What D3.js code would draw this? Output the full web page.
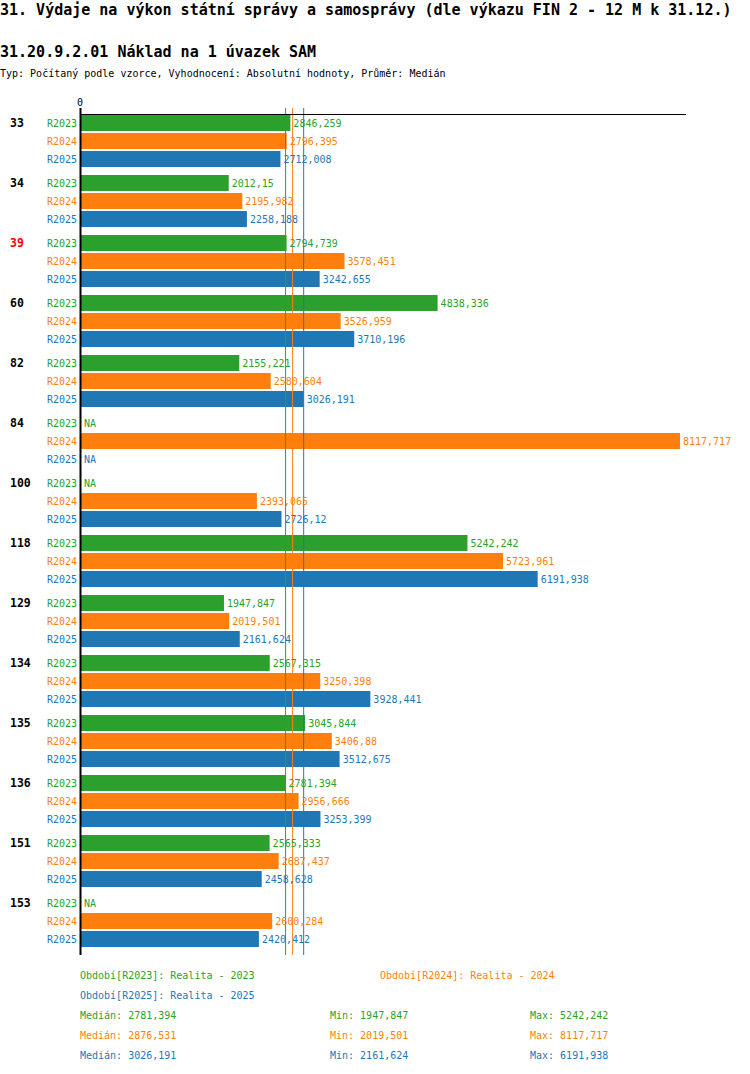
<!DOCTYPE html>
<html>
<head>
<meta charset="utf-8">
<script src="https://cdn.jsdelivr.net/npm/d3@7"></script>
<style>
body { margin: 0; background: #fff; }
text { font-family: "DejaVu Sans Mono", "Liberation Mono", monospace; }
</style>
</head>
<body>
<div id="chart"></div>
<script>
var categories = ["33","34","39","60","82","84","100","118","129","134","135","136","151","153"];
var series = ["R2023","R2024","R2025"];
var v2023 = [2846.259,2012.15,2794.739,4838.336,2155.221,null,null,5242.242,1947.847,2567.315,3045.844,2781.394,2565.333,null];
var v2024 = [2796.395,2195.982,3578.451,3526.959,2580.604,8117.717,2393.065,5723.961,2019.501,3250.398,3406.88,2956.666,2687.437,2600.284];
var v2025 = [2712.008,2258.188,3242.655,3710.196,3026.191,null,2726.12,6191.938,2161.624,3928.441,3512.675,3253.399,2458.628,2420.412];
var medians = [2781.394, 2876.531, 3026.191];
var mins = [1947.847, 2019.501, 2161.624];
var maxs = [5242.242, 8117.717, 6191.938];
var legendNames = ["Období[R2023]: Realita - 2023","Období[R2024]: Realita - 2024","Období[R2025]: Realita - 2025"];
var highlighted = "39";

var colors = ["#2ca02c","#ff7f0e","#1f77b4"];
var values = [v2023, v2024, v2025];
var fmt = function(v) { return String(v).replace(".", ","); };

var svg = d3.select("#chart").append("svg").attr("width", 750).attr("height", 1074);

svg.append("text").attr("x", 0).attr("y", 15).style("font-size", "15px").style("font-weight", "bold")
  .text("31. Výdaje na výkon státní správy a samosprávy (dle výkazu FIN 2 - 12 M k 31.12.)");
svg.append("text").attr("x", 0).attr("y", 57).style("font-size", "15px").style("font-weight", "bold")
  .text("31.20.9.2.01 Náklad na 1 úvazek SAM");
svg.append("text").attr("x", 0).attr("y", 77).style("font-size", "10px")
  .text("Typ: Počítaný podle vzorce, Vyhodnocení: Absolutní hodnoty, Průměr: Medián");

var x = d3.scaleLinear().domain([0, d3.max(v2024)]).range([80, 680]);
var y = d3.scaleBand().domain(categories).range([114, 114 + 60 * categories.length]);
var ys = d3.scaleBand().domain(series).range([1, 53]).paddingInner(1 / 9);

var rows = [];
categories.forEach(function(c, ci) {
  series.forEach(function(s, si) {
    rows.push({cat: c, s: s, si: si, v: values[si][ci]});
  });
});

svg.selectAll(".bar").data(rows.filter(function(d) { return d.v != null; })).enter().append("rect")
  .attr("x", x(0)).attr("y", function(d) { return y(d.cat) + ys(d.s); })
  .attr("width", function(d) { return x(d.v) - x(0); }).attr("height", ys.bandwidth())
  .style("fill", function(d) { return colors[d.si]; });

// median lines on top of bars
svg.selectAll(".med").data(medians).enter().append("line")
  .attr("x1", function(d) { return x(d); }).attr("x2", function(d) { return x(d); })
  .attr("y1", 108).attr("y2", 955)
  .style("stroke", function(d, i) { return colors[i]; }).style("stroke-width", 1);

svg.selectAll(".val").data(rows).enter().append("text")
  .attr("x", function(d) { return d.v == null ? x(0) + 4 : x(d.v) + 3; })
  .attr("y", function(d) { return y(d.cat) + ys(d.s) + ys.bandwidth() / 2; })
  .attr("dy", "0.35em").style("font-size", "10px")
  .style("fill", function(d) { return colors[d.si]; })
  .text(function(d) { return d.v == null ? "NA" : fmt(d.v); });

svg.selectAll(".ser").data(rows).enter().append("text")
  .attr("x", 77).attr("y", function(d) { return y(d.cat) + ys(d.s) + ys.bandwidth() / 2; })
  .attr("dy", "0.35em").attr("text-anchor", "end").style("font-size", "10px")
  .style("fill", function(d) { return colors[d.si]; })
  .text(function(d) { return d.s; });

svg.selectAll(".cat").data(categories).enter().append("text")
  .attr("x", 10).attr("y", function(d) { return y(d) + ys("R2023") + ys.bandwidth() / 2; })
  .attr("dy", "0.35em").style("font-size", "11.5px").style("font-weight", "bold")
  .style("fill", function(d) { return d == highlighted ? "#ff0000" : "#000"; })
  .text(function(d) { return d; });

// axes
svg.append("line").attr("x1", x(0)).attr("x2", 686).attr("y1", 114.5).attr("y2", 114.5)
  .style("stroke", "#000").style("stroke-width", 1);
svg.append("line").attr("x1", x(0) + 0.5).attr("x2", x(0) + 0.5).attr("y1", 108).attr("y2", 955)
  .style("stroke", "#000").style("stroke-width", 2);
svg.append("text").attr("x", x(0)).attr("y", 106).attr("text-anchor", "middle").style("font-size", "10px").text("0");

// legend
var legendPos = [[80, 975], [380, 975], [80, 995]];
legendNames.forEach(function(n, i) {
  svg.append("text").attr("x", legendPos[i][0]).attr("y", legendPos[i][1]).attr("dy", "0.35em")
    .style("font-size", "10px").style("fill", colors[i]).text(n);
});
series.forEach(function(s, i) {
  var yy = 1015 + 20 * i;
  svg.append("text").attr("x", 80).attr("y", yy).attr("dy", "0.35em").style("font-size", "10px")
    .style("fill", colors[i]).text("Medián: " + fmt(medians[i]));
  svg.append("text").attr("x", 330).attr("y", yy).attr("dy", "0.35em").style("font-size", "10px")
    .style("fill", colors[i]).text("Min: " + fmt(mins[i]));
  svg.append("text").attr("x", 530).attr("y", yy).attr("dy", "0.35em").style("font-size", "10px")
    .style("fill", colors[i]).text("Max: " + fmt(maxs[i]));
});
</script>
</body>
</html>
